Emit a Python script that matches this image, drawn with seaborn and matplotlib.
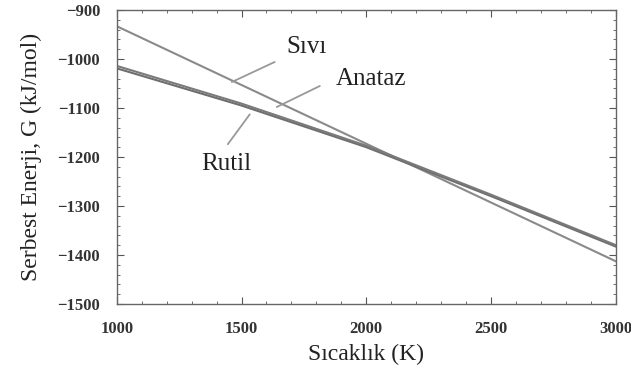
import pandas as pd
import matplotlib
matplotlib.use("Agg")
import matplotlib.pyplot as plt
from matplotlib.ticker import MultipleLocator
import seaborn as sns

# temperature (K) and Gibbs free energy (kJ/mol)
temps = [1000, 1500, 2000, 2500, 3000]
g_sivi = [-933, -1053, -1173, -1293, -1413]
g_rutil = [-1019, -1095, -1180, -1280, -1383]
g_anataz = [-1014, -1091, -1177, -1277, -1380]

phases = ["Sıvı", "Rutil", "Anataz"]

df = pd.DataFrame({
    "T": temps * 3,
    "G": g_sivi + g_rutil + g_anataz,
    "faz": [p for p in phases for _ in temps],
})

sns.set_style("ticks")
plt.rcParams["font.family"] = ["Liberation Serif", "DejaVu Serif"]

fig = plt.figure(figsize=(6.31, 3.72), dpi=100)
ax = fig.add_axes([0.185, 0.183, 0.791, 0.79])

sns.lineplot(data=df, x="T", y="G", hue="faz", palette=["#8a8a8a", "#6e6e6e", "#7a7a7a"],
             linewidth=1.5, legend=False, ax=ax)

ax.set_xlim(1000, 3000)
ax.set_ylim(-1500, -900)
ax.xaxis.set_major_locator(MultipleLocator(500))
ax.xaxis.set_minor_locator(MultipleLocator(100))
ax.yaxis.set_major_locator(MultipleLocator(100))
ax.yaxis.set_minor_locator(MultipleLocator(20))
ax.tick_params(which="both", direction="in", top=True, right=True, colors="#555555",
               labelcolor="#333333")
ax.tick_params(which="major", length=5, labelsize=12)
ax.tick_params(axis="y", which="major", pad=12)
ax.tick_params(axis="x", which="major", pad=12)
ax.tick_params(which="minor", length=2.5)
for lab in ax.get_xticklabels() + ax.get_yticklabels():
    lab.set_fontweight("bold")
for s in ax.spines.values():
    s.set_color("#666666")
    s.set_linewidth(1.0)

ax.set_xlabel("Sıcaklık (K)", fontsize=17, color="#222222", labelpad=5)
ax.set_ylabel("Serbest Enerji, G (kJ/mol)", fontsize=17, color="#222222", labelpad=11)

# phase labels with pointer lines
labels = [("Sıvı", 1762, -976, (1633, -1006), (1461, -1047)),
          ("Anataz", 2018, -1041, (1814, -1055), (1641, -1098)),
          ("Rutil", 1437, -1215, (1445, -1174), (1533, -1113))]
for txt, tx, ty, p0, p1 in labels:
    ax.text(tx, ty, txt, fontsize=18, ha="center", va="center", color="#222222")
    ax.plot([p0[0], p1[0]], [p0[1], p1[1]], color="#999999", lw=1.3)

fig.savefig("out.png", dpi=100)
